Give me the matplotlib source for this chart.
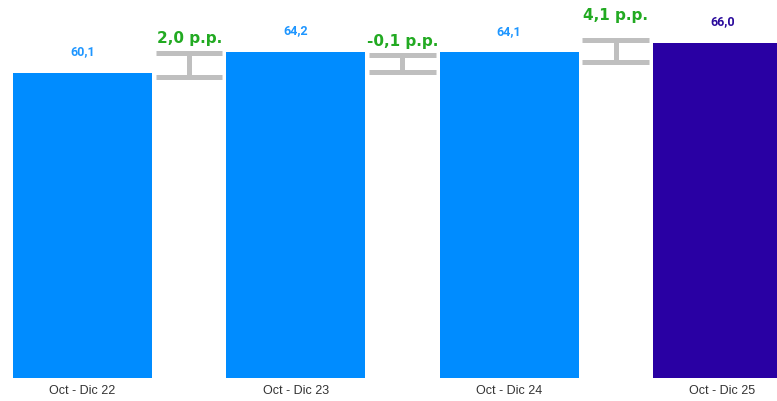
import matplotlib
matplotlib.use("Agg")
from matplotlib import pyplot as plt
import numpy as np

# datos
periodos = ["Oct - Dic 22", "Oct - Dic 23", "Oct - Dic 24", "Oct - Dic 25"]
valores = [60.1, 64.2, 64.1, 66.0]
etiquetas = ["60,1", "64,2", "64,1", "66,0"]
variaciones = ["2,0 p.p.", "-0,1 p.p.", "4,1 p.p."]
# extremos de los corchetes entre barras
corchete_sup = [64.07, 63.58, 66.63]
corchete_inf = [59.35, 60.14, 62.11]
texto_var_y = [67.0, 66.4, 71.65]

colores = ["#008CFF", "#008CFF", "#008CFF", "#2900A3"]
colores_txt = ["#1E96FF", "#1E96FF", "#1E96FF", "#2A0A9C"]
verde = "#22AA22"
gris = "#BFBFBF"

fig = plt.figure(figsize=(7.77, 4.02), dpi=100)
ax = fig.add_axes([0, 23 / 402, 1, 379 / 402])

x = np.arange(len(valores))
ax.bar(x, valores, width=0.652, color=colores, zorder=2)

for i, v in enumerate(valores):
    ax.annotate(etiquetas[i], (x[i], v), xytext=(0, 16), textcoords="offset points",
                ha="center", va="center", fontsize=9, fontweight="bold",
                color=colores_txt[i], family="Roboto")

# corchetes de variación
hw = 0.156
for i in range(len(variaciones)):
    c = x[i] + 0.5
    ax.plot([c - hw, c + hw], [corchete_sup[i]] * 2, color=gris, lw=3.6, solid_capstyle="butt")
    ax.plot([c - hw, c + hw], [corchete_inf[i]] * 2, color=gris, lw=3.6, solid_capstyle="butt")
    ax.plot([c, c], [corchete_inf[i], corchete_sup[i]], color=gris, lw=3.6, solid_capstyle="butt")
    ax.text(c, texto_var_y[i], variaciones[i], ha="center", va="center", fontsize=11,
            fontweight="bold", color=verde, family="DejaVu Sans")

ax.set_xlim(-82.5 / 213.3, (777 - 82.5) / 213.3)
ax.set_ylim(0, 379 / 5.08)
ax.set_xticks(x)
ax.set_xticklabels(periodos, fontsize=9, color="#333333", family="Liberation Sans")
ax.tick_params(axis="x", length=0, pad=4)
ax.set_yticks([])
for s in ax.spines.values():
    s.set_visible(False)

plt.savefig("out.png", dpi=100)
